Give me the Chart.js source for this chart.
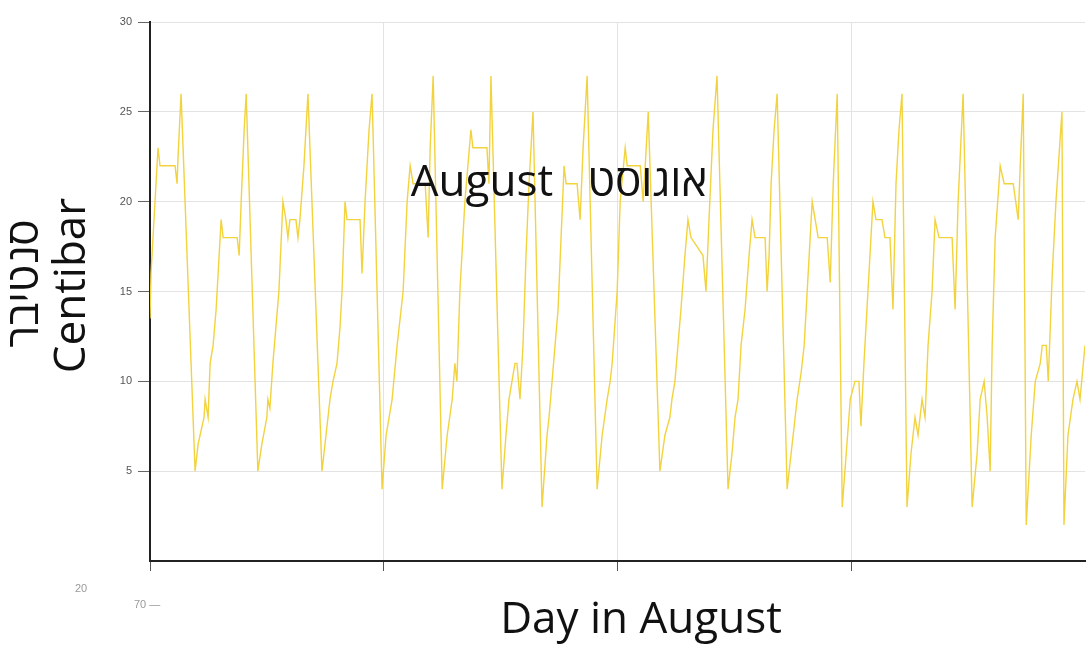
<!DOCTYPE html>
<html>
<head>
<meta charset="utf-8">
<title>Centibar - August</title>
<script src="https://cdn.jsdelivr.net/npm/chart.js@4/dist/chart.umd.min.js"></script>
<style>
  html, body { margin: 0; padding: 0; background: #fff; }
  #wrap { width: 1090px; height: 646px; }
</style>
</head>
<body>
<div id="wrap"><canvas id="soilChart" width="1090" height="646"></canvas></div>
<script>
// readings (day of August, centibar)
const days = [
  1.00, 1.03, 1.24, 1.30, 1.75, 1.81, 1.84, 1.93,
  2.35, 2.44, 2.62, 2.65, 2.74, 2.80, 2.89, 2.98, 3.04, 3.13, 3.19, 3.61, 3.67, 3.73, 3.82, 3.88,
  4.23, 4.35, 4.50, 4.53, 4.59, 4.68, 4.77, 4.86, 4.98, 5.07, 5.13, 5.19, 5.37, 5.43, 5.49, 5.61, 5.73,
  6.15, 6.27, 6.39, 6.48, 6.60, 6.69, 6.75, 6.84, 6.90, 7.29, 7.35, 7.44, 7.56, 7.65,
  7.95, 8.07, 8.16, 8.25, 8.40, 8.58, 8.70, 8.79, 8.88, 9.24, 9.33, 9.39, 9.48,
  9.75, 9.90, 10.05, 10.13, 10.19, 10.28, 10.43, 10.61, 10.67, 11.09, 11.15, 11.21,
  11.54, 11.66, 11.75, 11.84, 11.93, 11.99, 12.08, 12.17, 12.26, 12.35, 12.47,
  12.74, 12.89, 12.95, 13.04, 13.13, 13.22, 13.31, 13.40, 13.46, 13.79, 13.88, 13.97, 14.09,
  14.39, 14.54, 14.69, 14.78, 14.84, 14.99, 15.08, 15.23, 15.29, 15.68, 15.77, 15.86, 15.92,
  16.27, 16.42, 16.57, 16.63, 16.72, 16.81, 16.90, 17.02, 17.11, 17.20, 17.56, 17.65, 17.74, 17.86, 17.98,
  18.31, 18.43, 18.52, 18.61, 18.70, 18.82, 18.94, 19.03, 19.12, 19.42, 19.48, 19.54, 19.60, 19.69, 19.78,
  20.08, 20.20, 20.32, 20.38, 20.50, 20.59, 20.68, 20.83, 20.92, 21.01, 21.28, 21.37, 21.46, 21.58,
  21.73, 21.85, 21.97, 22.11, 22.23, 22.29, 22.38, 22.50, 22.65, 22.74, 22.92, 23.01, 23.16, 23.25, 23.34, 23.43, 23.52,
  23.67, 23.79, 23.91, 24.00, 24.12, 24.21, 24.30, 24.42, 24.51, 24.63, 25.02, 25.11, 25.20, 25.35,
  25.62, 25.77, 25.86, 25.98, 26.07, 26.16, 26.22, 26.31, 26.46, 26.58, 26.85, 27.00, 27.06, 27.15,
  27.24, 27.39, 27.51, 27.66, 27.72, 27.84, 27.90, 28.02, 28.13, 28.31,
  28.37, 28.49, 28.64, 28.76, 28.85, 29.00
];
const centibar = [
  13.5, 16, 23, 22, 22, 21, 22.5, 26,
  5, 6.5, 8, 9, 8, 11, 12, 14, 16, 19, 18, 18, 17, 20, 24, 26,
  5, 6.5, 8, 9, 8.5, 11, 13, 15, 20, 19, 18, 19, 19, 18, 19, 22, 26,
  5, 7, 9, 10, 11, 13, 15, 20, 19, 19, 16, 20, 24, 26,
  4, 7, 8, 9, 12, 15, 20, 22, 21, 21, 18, 23, 27,
  4, 7, 9, 11, 10, 15, 20, 24, 23, 23, 21, 27,
  4, 7, 9, 10, 11, 11, 9, 12, 17, 21, 25,
  3, 7, 8, 10, 12, 14, 18, 22, 21, 21, 19, 23, 27,
  4, 7, 9, 10, 11, 15, 20, 23, 22, 22, 20, 23, 25,
  5, 7, 8, 9, 10, 12, 14, 17, 19, 18, 17, 15, 19, 24, 27,
  4, 6, 8, 9, 12, 14, 17, 19, 18, 18, 15, 17, 21, 24, 26,
  4, 6, 8, 9, 10.5, 12, 15, 20, 19, 18, 18, 15.5, 21, 26,
  3, 6, 9, 10, 10, 7.5, 11, 15, 20, 19, 19, 18, 18, 14, 21, 24, 26,
  3, 6, 8, 7, 9, 8, 12, 15, 19, 18, 18, 14, 20, 26,
  3, 6, 9, 10, 8, 5, 12, 18, 22, 21, 21, 19, 22, 26,
  2, 7, 10, 11, 12, 12, 10, 16, 20, 25,
  2, 7, 9, 10, 9, 12
];
const yTicks = [5, 10, 15, 20, 25, 30];
const dayGrid = [1, 8, 15, 22, 29];

const yTitle = ['סנטיבר', 'Centibar'];
const xTitle = 'Day in August';
const centerLabel = 'August   אוגוסט';

const points = days.map((d, i) => ({ x: d, y: centibar[i] }));

// titles and the middle caption, drawn on the canvas
const textPlugin = {
  id: 'textPlugin',
  afterDraw(chart) {
    const ctx = chart.ctx;
    const area = chart.chartArea;
    const xs = chart.scales.x;
    const ys = chart.scales.y;
    ctx.save();
    ctx.fillStyle = '#111';
    ctx.textAlign = 'center';
    ctx.textBaseline = 'middle';
    ctx.font = '44px "Open Sans", "Noto Sans", sans-serif';

    // y title, two rotated lines
    ctx.save();
    ctx.translate(25, (area.top + area.bottom) / 2 - 8);
    ctx.rotate(-Math.PI / 2);
    ctx.fillText(yTitle[0], 0, 0);
    ctx.restore();
    ctx.save();
    ctx.translate(72, (area.top + area.bottom) / 2 - 6);
    ctx.rotate(-Math.PI / 2);
    ctx.fillText(yTitle[1], 0, 0);
    ctx.restore();

    // x title
    ctx.fillText(xTitle, 641, 620);

    // caption in the middle of the plot
    ctx.fillText(centerLabel, xs.getPixelForValue(13.25), ys.getPixelForValue(21));

    // stray bits of another chart under the axis
    ctx.fillStyle = '#999';
    ctx.font = '11px "Liberation Sans", Arial, sans-serif';
    ctx.textAlign = 'left';
    ctx.fillText('20', 75, 589);
    ctx.fillText('70 —', 134, 605);
    ctx.restore();
  }
};

new Chart(document.getElementById('soilChart'), {
  type: 'line',
  data: {
    datasets: [{
      data: points,
      borderColor: '#f2d33e',
      borderWidth: 1.4,
      pointRadius: 0,
      tension: 0,
      fill: false
    }]
  },
  options: {
    responsive: false,
    animation: false,
    layout: { padding: { top: 22, right: 5, left: 0, bottom: 0 } },
    plugins: { legend: { display: false }, tooltip: { enabled: false } },
    scales: {
      x: {
        type: 'linear',
        min: dayGrid[0],
        max: dayGrid[dayGrid.length - 1],
        afterBuildTicks: s => { s.ticks = dayGrid.map(v => ({ value: v })); },
        afterFit: s => { s.height = 85; },
        ticks: { callback: () => '', font: { size: 1 } },
        grid: {
          color: c => (c.index === dayGrid.length - 1 ? 'rgba(0,0,0,0)' : '#e3e3e3'),
          tickColor: c => (c.index === dayGrid.length - 1 ? 'rgba(0,0,0,0)' : '#555'),
          tickLength: 10,
          lineWidth: 1
        },
        border: { color: '#222', width: 2 }
      },
      y: {
        min: 0,
        max: 30,
        afterBuildTicks: s => { s.ticks = yTicks.map(v => ({ value: v })); },
        afterFit: s => { s.width = 150; },
        ticks: {
          color: '#555',
          font: { size: 11, family: '"Liberation Sans", Arial, sans-serif' },
          padding: 6
        },
        grid: {
          color: '#e3e3e3',
          tickColor: '#666',
          tickLength: 12,
          lineWidth: 1
        },
        border: { color: '#222', width: 2 }
      }
    }
  },
  plugins: [textPlugin]
});
</script>
</body>
</html>
